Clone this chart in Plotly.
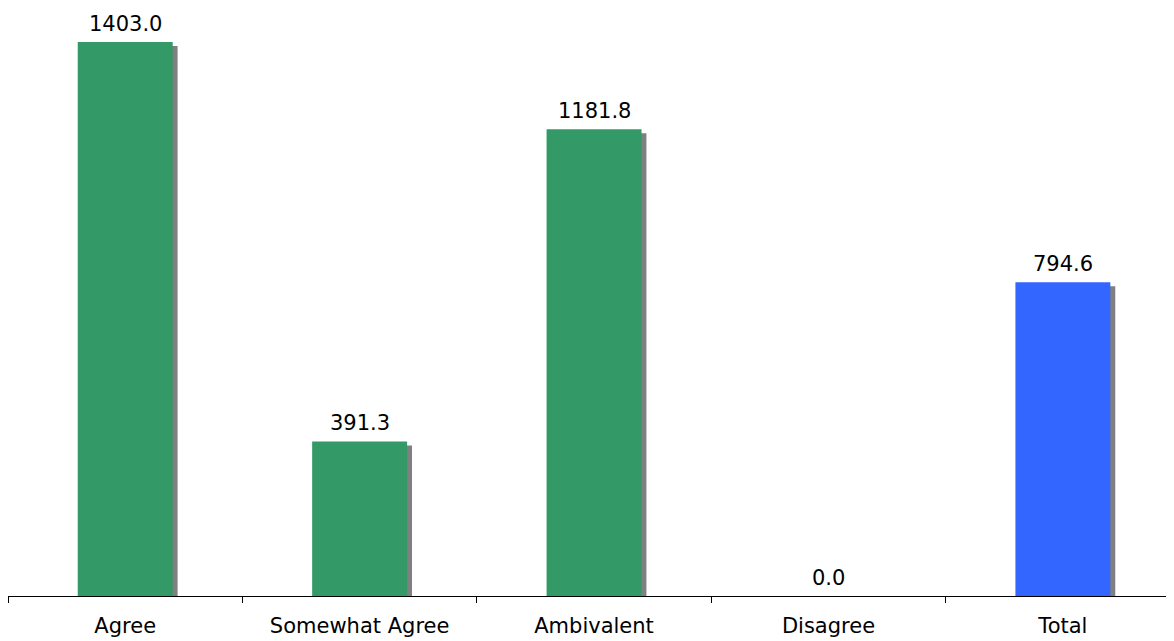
import plotly.graph_objects as go

categories = ["Agree", "Somewhat Agree", "Ambivalent", "Disagree", "Total"]
values = [1403.0, 391.3, 1181.8, 0.0, 794.6]
bar_colors = ["#339966", "#339966", "#339966", "#339966", "#3366FF"]
labels = [f"{v:.1f}" for v in values]

BAR_W = 0.405
SHADOW_DX = 0.021   # category units
SHADOW_DY = 10.0    # value units
YMAX = 1489
FONT = "Verdana, DejaVu Sans, sans-serif"
FS = 21

fig = go.Figure()

# shadow
fig.add_trace(go.Bar(
    x=categories,
    y=[max(v - SHADOW_DY, 0) for v in values],
    width=BAR_W,
    offset=-BAR_W / 2 + SHADOW_DX,
    marker=dict(color="#808080", line=dict(width=0)),
    hoverinfo="skip",
    showlegend=False,
))
# bars
fig.add_trace(go.Bar(
    x=categories,
    y=values,
    width=BAR_W,
    offset=-BAR_W / 2,
    marker=dict(color=bar_colors, line=dict(width=0)),
    showlegend=False,
))

for c, v, t in zip(categories, values, labels):
    fig.add_annotation(
        x=c, y=v, text=t, showarrow=False,
        yanchor="bottom", yshift=4,
        font=dict(family=FONT, size=FS, color="#000000"),
    )

fig.update_layout(
    width=1166, height=633,
    margin=dict(l=0, r=0, t=0, b=45),
    barmode="overlay",
    plot_bgcolor="white",
    paper_bgcolor="white",
    font=dict(family=FONT, size=FS, color="#000000"),
)
fig.update_xaxes(
    type="category",
    range=[-0.5, 4.474],
    showline=True, linecolor="#000000", linewidth=1,
    ticks="outside", ticklen=6, tickcolor="#000000", tickwidth=1,
    tickson="boundaries",
    ticklabelstandoff=11,
    showgrid=False, zeroline=False,
    tickfont=dict(family=FONT, size=FS, color="#000000"),
)
fig.update_yaxes(
    range=[0, YMAX],
    visible=False,
    showgrid=False, zeroline=False,
)

fig.write_html("out.html")
